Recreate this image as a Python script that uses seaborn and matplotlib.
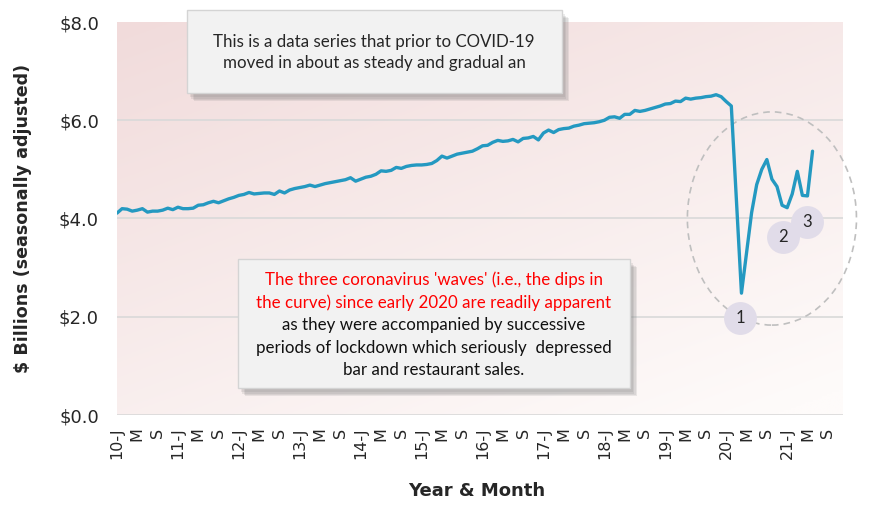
import numpy as np
import pandas as pd
import matplotlib
matplotlib.use("Agg")
import matplotlib.pyplot as plt
import matplotlib.patches as mpatches
import matplotlib.patheffects as pe
import seaborn as sns

# ---------------- data ----------------
years = list(range(2010, 2022))
sales_2010 = [4.11, 4.20, 4.19, 4.15, 4.17, 4.20, 4.13, 4.15, 4.15, 4.17, 4.21, 4.18]
sales_2011 = [4.23, 4.20, 4.20, 4.21, 4.27, 4.28, 4.32, 4.35, 4.32, 4.36, 4.40, 4.43]
sales_2012 = [4.47, 4.49, 4.53, 4.50, 4.51, 4.52, 4.52, 4.49, 4.56, 4.52, 4.58, 4.61]
sales_2013 = [4.63, 4.65, 4.68, 4.65, 4.68, 4.71, 4.73, 4.75, 4.77, 4.79, 4.83, 4.76]
sales_2014 = [4.80, 4.84, 4.86, 4.90, 4.97, 4.96, 4.98, 5.04, 5.02, 5.06, 5.08, 5.09]
sales_2015 = [5.09, 5.10, 5.12, 5.18, 5.27, 5.23, 5.27, 5.31, 5.33, 5.35, 5.37, 5.42]
sales_2016 = [5.48, 5.49, 5.55, 5.59, 5.57, 5.58, 5.61, 5.56, 5.63, 5.64, 5.67, 5.60]
sales_2017 = [5.74, 5.80, 5.75, 5.81, 5.83, 5.84, 5.88, 5.90, 5.93, 5.94, 5.95, 5.97]
sales_2018 = [6.00, 6.06, 6.07, 6.04, 6.12, 6.12, 6.20, 6.18, 6.20, 6.23, 6.26, 6.29]
sales_2019 = [6.33, 6.34, 6.39, 6.38, 6.45, 6.43, 6.45, 6.46, 6.48, 6.49, 6.52, 6.48]
sales_2020 = [6.38, 6.29, 4.38, 2.48, 3.30, 4.12, 4.69, 5.00, 5.20, 4.80, 4.65, 4.27]
sales_2021 = [4.22, 4.50, 4.96, 4.47, 4.46, 5.37]

sales = (sales_2010 + sales_2011 + sales_2012 + sales_2013 + sales_2014 + sales_2015 +
         sales_2016 + sales_2017 + sales_2018 + sales_2019 + sales_2020 + sales_2021)

n_categories = 144  # Jan 2010 .. Dec 2021 on the category axis
tick_labels = []
for y in years:
    tick_labels += [f"{y % 100}-J", "M", "S"]

y_ticks = [0, 2, 4, 6, 8]

wave_labels = ["1", "2", "3"]
wave_x = [122.7, 131.2, 135.9]
wave_y = [1.98, 3.62, 3.93]

box1_lines = ["This is a data series that prior to COVID-19",
              "moved in about as steady and gradual an"]
box2_red = ["The three coronavirus 'waves' (i.e., the dips in",
            "the curve) since early 2020 are readily apparent"]
box2_black = ["as they were accompanied by successive",
              "periods of lockdown which seriously  depressed",
              "bar and restaurant sales."]

df = pd.DataFrame({"month": np.arange(len(sales)), "sales": sales})

# ---------------- figure ----------------
sns.set_style("white")
plt.rcParams["font.family"] = ["DejaVu Sans"]

W, H = 870, 511
fig = plt.figure(figsize=(W / 100, H / 100), dpi=100)
L, R, T, B = 117, 843, 22, 415
ax = fig.add_axes([L / W, 1 - B / H, (R - L) / W, (B - T) / H])

ax.set_xlim(0, n_categories - 1)
ax.set_ylim(0, 8)

# gradient background
ny, nx = 200, 300
u = np.linspace(0, 1, nx)[None, :]
v = np.linspace(0, 1, ny)[:, None]   # 0 top, 1 bottom
t = np.clip(0.62 * v + 0.42 * u, 0, 1)
c_top = np.array([241, 219, 219]) / 255
c_bot = np.array([254, 251, 250]) / 255
img = c_top[None, None, :] * (1 - t[..., None]) + c_bot[None, None, :] * t[..., None]
ax.imshow(img, extent=[0, n_categories - 1, 0, 8], aspect="auto", origin="upper", zorder=0)

# grid
for gy in [0, 2, 4, 6]:
    ax.axhline(gy, color="#d9d9d9", lw=1.2, zorder=1)

sns.lineplot(data=df, x="month", y="sales", ax=ax, color="#2499c1", lw=2.4, zorder=3)

for s in ax.spines.values():
    s.set_visible(False)

ax.set_xticks(np.arange(0, 4 * len(tick_labels), 4))
ax.set_xticklabels(tick_labels, rotation=90, fontsize=11.5)
ax.set_yticks(y_ticks)
ax.set_yticklabels([f"${v:.1f}" for v in y_ticks], fontsize=13)
ax.tick_params(axis="x", length=0, pad=9)
ax.tick_params(axis="y", length=0, pad=13)
ax.set_xlabel("")
ax.set_ylabel("")

fig.text(23 / W, 1 - 218 / H, "$ Billions (seasonally adjusted)", rotation=90,
         ha="center", va="center", fontsize=12.6, fontweight="bold")
fig.text(477 / W, 1 - 491 / H, "Year & Month", ha="center", va="center",
         fontsize=13, fontweight="bold")

# dashed ellipse
ell = mpatches.Ellipse((129.0, 4.0), 33.3, 4.34, fill=False, ec="#bfbfbf",
                       lw=1.2, ls=(0, (4, 3)), zorder=2, clip_on=False)
ax.add_patch(ell)

# wave markers
ax.scatter(wave_x, wave_y, s=560, color="#e1dce9", zorder=4, linewidths=0, clip_on=False)
for lab, xx, yy in zip(wave_labels, wave_x, wave_y):
    ax.text(xx, yy, lab, ha="center", va="center", fontsize=12, zorder=5,
            family=["Lato", "DejaVu Sans"])

# annotation boxes (soft shadow built from several faint layers)
shadow = [pe.SimplePatchShadow(offset=(o, -o - 1), shadow_rgbFace="#7a7a7a", alpha=0.14)
          for o in (5, 4, 3, 2)] + [pe.Normal()]


def add_box(x0, y0, x1, y1):
    r = mpatches.Rectangle((x0 / W, 1 - y1 / H), (x1 - x0) / W, (y1 - y0) / H,
                           transform=fig.transFigure, fc="#f2f2f2", ec="#d4d4d4",
                           lw=1, zorder=5)
    r.set_path_effects(shadow)
    fig.add_artist(r)


add_box(187, 10, 562, 93)
for i, line in enumerate(box1_lines):
    fig.text(374 / W, 1 - (42 + 21 * i) / H, line, ha="center", va="center",
             fontsize=12.2, family=["Lato", "DejaVu Sans"], zorder=6)

add_box(238, 259, 630, 388)
lines2 = [(l, "#ff0000") for l in box2_red] + [(l, "#111111") for l in box2_black]
for i, (line, col) in enumerate(lines2):
    fig.text(434 / W, 1 - (280 + 22.5 * i) / H, line, ha="center", va="center",
             fontsize=12.2, color=col, family=["Lato", "DejaVu Sans"], zorder=6)

fig.savefig("out.png", dpi=100)
